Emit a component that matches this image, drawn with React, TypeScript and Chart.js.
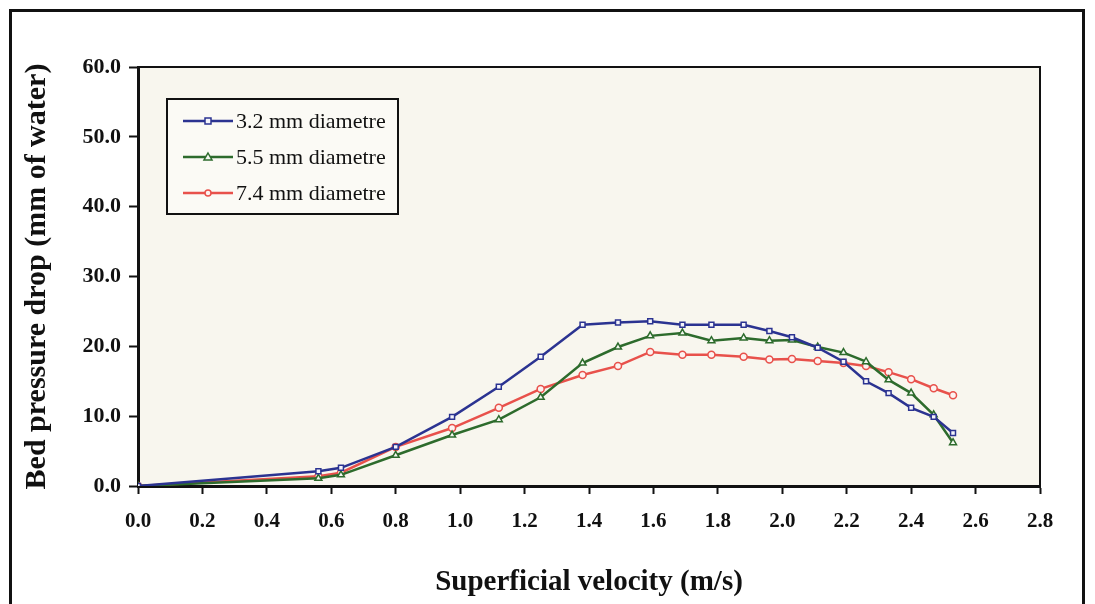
import React, { useEffect, useRef } from "react";
import { Chart, registerables } from "chart.js";

Chart.register(...registerables);

const velocity = [0, 0.56, 0.63, 0.8, 0.975, 1.12, 1.25, 1.38, 1.49, 1.59, 1.69, 1.78, 1.88, 1.96, 2.03, 2.11, 2.19, 2.26, 2.33, 2.4, 2.47, 2.53];
const drop32 = [0, 2.1, 2.6, 5.6, 9.9, 14.2, 18.5, 23.1, 23.4, 23.6, 23.1, 23.1, 23.1, 22.2, 21.3, 19.8, 17.8, 15.0, 13.3, 11.2, 9.9, 7.6];
const drop55 = [0, 1.1, 1.6, 4.4, 7.3, 9.5, 12.7, 17.6, 19.9, 21.5, 21.9, 20.8, 21.2, 20.8, 20.9, 19.9, 19.1, 17.8, 15.2, 13.3, 10.2, 6.2];
const drop74 = [0, 1.4, 1.9, 5.6, 8.3, 11.2, 13.9, 15.9, 17.2, 19.2, 18.8, 18.8, 18.5, 18.1, 18.2, 17.9, 17.6, 17.2, 16.3, 15.3, 14.0, 13.0];
const seriesLabels = ["3.2 mm diametre", "5.5 mm diametre", "7.4 mm diametre"];
const xTitle = "Superficial velocity (m/s)";
const yTitle = "Bed pressure drop (mm of water)";

const SERIF = "'Liberation Serif', 'Times New Roman', serif";

const framePlugin = {
  id: "frame",
  beforeDraw(chart: any) {
    const { ctx, chartArea: a } = chart;
    ctx.save();
    ctx.fillStyle = "#f8f6ee";
    ctx.fillRect(a.left, a.top, a.right - a.left, a.bottom - a.top);
    ctx.restore();
  },
  afterDraw(chart: any) {
    const { ctx, chartArea: a } = chart;
    ctx.save();
    ctx.strokeStyle = "#111";
    ctx.lineWidth = 2;
    ctx.beginPath();
    ctx.moveTo(a.left, a.top);
    ctx.lineTo(a.right, a.top);
    ctx.lineTo(a.right, a.bottom);
    ctx.stroke();
    // legend box
    const bx = 167, by = 99, bw = 231, bh = 115;
    ctx.fillStyle = "#fbfaf5";
    ctx.fillRect(bx, by, bw, bh);
    ctx.lineWidth = 2;
    ctx.strokeStyle = "#111";
    ctx.strokeRect(bx, by, bw, bh);
    chart.data.datasets.forEach((ds: any, i: number) => {
      const y = by + 22 + i * 36;
      ctx.strokeStyle = ds.borderColor;
      ctx.lineWidth = 2.5;
      ctx.beginPath();
      ctx.moveTo(183, y);
      ctx.lineTo(233, y);
      ctx.stroke();
      ctx.fillStyle = ds.pointBackgroundColor;
      ctx.strokeStyle = ds.borderColor;
      ctx.lineWidth = 1.5;
      const r = 3;
      if (ds.pointStyle === "rect") {
        ctx.fillRect(208 - r, y - r, 2 * r, 2 * r);
        ctx.strokeRect(208 - r, y - r, 2 * r, 2 * r);
      } else if (ds.pointStyle === "triangle") {
        ctx.beginPath();
        ctx.moveTo(208, y - r - 1);
        ctx.lineTo(208 + r + 1, y + r);
        ctx.lineTo(208 - r - 1, y + r);
        ctx.closePath();
        ctx.fill();
        ctx.stroke();
      } else {
        ctx.beginPath();
        ctx.arc(208, y, r, 0, Math.PI * 2);
        ctx.fill();
        ctx.stroke();
      }
      ctx.fillStyle = "#111";
      ctx.font = `22px ${SERIF}`;
      ctx.textAlign = "left";
      ctx.textBaseline = "middle";
      ctx.fillText(ds.label, 236, y + 1);
    });
    ctx.restore();
  },
};

export default function App() {
  const ref = useRef<HTMLCanvasElement>(null);
  useEffect(() => {
    if (!ref.current) return;
    const mk = (vals: number[]) => velocity.map((v, i) => ({ x: v, y: vals[i] }));
    const chart = new Chart(ref.current, {
      type: "line",
      data: {
        datasets: [
          { label: seriesLabels[0], data: mk(drop32), borderColor: "#2b3391", pointStyle: "rect", pointBackgroundColor: "#f4f4fb", pointRadius: 3.5, pointBorderWidth: 1.5, borderWidth: 2.5, tension: 0 },
          { label: seriesLabels[1], data: mk(drop55), borderColor: "#2d6b2c", pointStyle: "triangle", pointBackgroundColor: "#f4f8f0", pointRadius: 4, pointBorderWidth: 1.5, borderWidth: 2.5, tension: 0 },
          { label: seriesLabels[2], data: mk(drop74), borderColor: "#e8514b", pointStyle: "circle", pointBackgroundColor: "#fdf2f0", pointRadius: 3.5, pointBorderWidth: 1.5, borderWidth: 2.5, tension: 0 },
        ],
      },
      options: {
        animation: false,
        responsive: false,
        layout: { padding: { left: 0, top: 67, right: 55, bottom: 0 } },
        plugins: { legend: { display: false }, tooltip: { enabled: false } },
        scales: {
          x: {
            type: "linear",
            min: 0,
            max: 2.8,
            afterFit: (s: any) => { s.height = 118; },
            grid: { display: true, drawOnChartArea: false, drawTicks: true, tickLength: 8, tickColor: "#111", tickWidth: 2 } as any,
            border: { display: true, color: "#111", width: 3 },
            ticks: {
              stepSize: 0.2,
              color: "#111",
              padding: 15,
              maxRotation: 0,
              font: { family: SERIF, size: 21, weight: "bold" },
              callback: (v: any) => Number(v).toFixed(1),
            },
            title: { display: true, text: xTitle, color: "#111", font: { family: SERIF, size: 29, weight: "bold" }, padding: { top: 10, bottom: 4 } },
          },
          y: {
            min: 0,
            max: 60,
            afterFit: (s: any) => { s.width = 138; },
            grid: { display: true, drawOnChartArea: false, drawTicks: true, tickLength: 9, tickColor: "#111", tickWidth: 2 } as any,
            border: { display: true, color: "#111", width: 3 },
            ticks: {
              stepSize: 10,
              color: "#111",
              padding: 8,
              font: { family: SERIF, size: 22, weight: "bold" },
              callback: (v: any) => Number(v).toFixed(1),
            },
            title: { display: true, text: yTitle, color: "#111", font: { family: SERIF, size: 30, weight: "bold" }, padding: { top: 19, bottom: 0 } },
          },
        },
      },
      plugins: [framePlugin],
    });
    return () => chart.destroy();
  }, []);
  return (
    <div>
      <div style={{ position: "absolute", left: 9, top: 9, width: 1076, height: 610, border: "3px solid #111", boxSizing: "border-box" }} />
      <canvas ref={ref} width={1095} height={604} style={{ position: "absolute", left: 0, top: 0, width: 1095, height: 604 }} />
    </div>
  );
}
